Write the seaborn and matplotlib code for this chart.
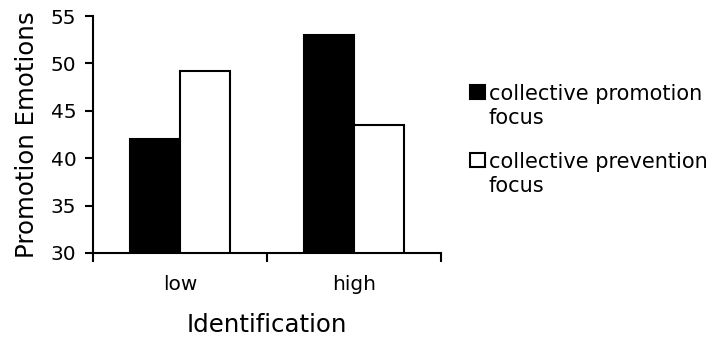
import matplotlib
matplotlib.use("Agg")
import matplotlib.pyplot as plt
import seaborn as sns
import pandas as pd
from matplotlib.patches import Patch, Rectangle
from matplotlib.legend_handler import HandlerPatch

identification = ["low", "high"]
focus = ["collective promotion focus", "collective prevention focus"]
promotion_focus = [42.0, 53.0]
prevention_focus = [49.2, 43.5]

df = pd.DataFrame({
    "Identification": identification * 2,
    "focus": [focus[0]] * 2 + [focus[1]] * 2,
    "value": promotion_focus + prevention_focus,
})

sns.set_style("white")
plt.rcParams["font.family"] = ["DejaVu Sans"]
plt.rcParams["text.color"] = "black"
plt.rcParams["axes.labelcolor"] = "black"
plt.rcParams["xtick.color"] = "black"
plt.rcParams["ytick.color"] = "black"

fig = plt.figure(figsize=(7.12, 3.37), dpi=100)
ax = fig.add_axes([0.1306, 0.2493, 0.4888, 0.7032])

sns.barplot(data=df, x="Identification", y="value", hue="focus",
            hue_order=focus, palette=["black", "white"], edgecolor="black",
            linewidth=1.5, width=0.575, gap=0, ax=ax, legend=False)

ax.set_ylim(30, 55)
ax.set_yticks([30, 35, 40, 45, 50, 55])
ax.set_xlim(-0.5, 1.5)
ax.set_xticks([0, 1])
ax.set_xticklabels(identification)
ax.set_xticks([-0.5, 0.5, 1.5], minor=True)
ax.tick_params(axis="x", which="major", bottom=False, pad=12, labelsize=14.5)
ax.tick_params(axis="x", which="minor", bottom=True, length=6.5, width=1.5, direction="out")
ax.tick_params(axis="y", left=True, length=6, width=1.5, direction="out", labelsize=14.5, pad=6)

for s in ["top", "right"]:
    ax.spines[s].set_visible(False)
for s in ["left", "bottom"]:
    ax.spines[s].set_color("black")
    ax.spines[s].set_linewidth(1.5)

ax.set_xlabel("Identification", fontsize=17.6, labelpad=14)
ax.set_ylabel("Promotion Emotions", fontsize=17.6, labelpad=8)


def top_square(legend, orig_handle, xdescent, ydescent, width, height, fontsize):
    size = 0.7 * fontsize
    return Rectangle((-xdescent, -ydescent + 0.72 * fontsize), size, size)


handles = [Patch(facecolor="black", edgecolor="black", linewidth=1.5),
           Patch(facecolor="white", edgecolor="black", linewidth=1.5)]
labels = ["collective promotion\nfocus", "collective prevention\nfocus"]
leg = fig.legend(handles, labels, loc="upper left", bbox_to_anchor=(0.66, 0.75),
                 frameon=False, fontsize=15, handlelength=0.7,
                 handletextpad=0.2, labelspacing=1.15, borderaxespad=0, borderpad=0,
                 handler_map={Patch: HandlerPatch(patch_func=top_square)})
for t in leg.get_texts():
    t.set_linespacing(1.25)

fig.savefig("out.png", dpi=100)
